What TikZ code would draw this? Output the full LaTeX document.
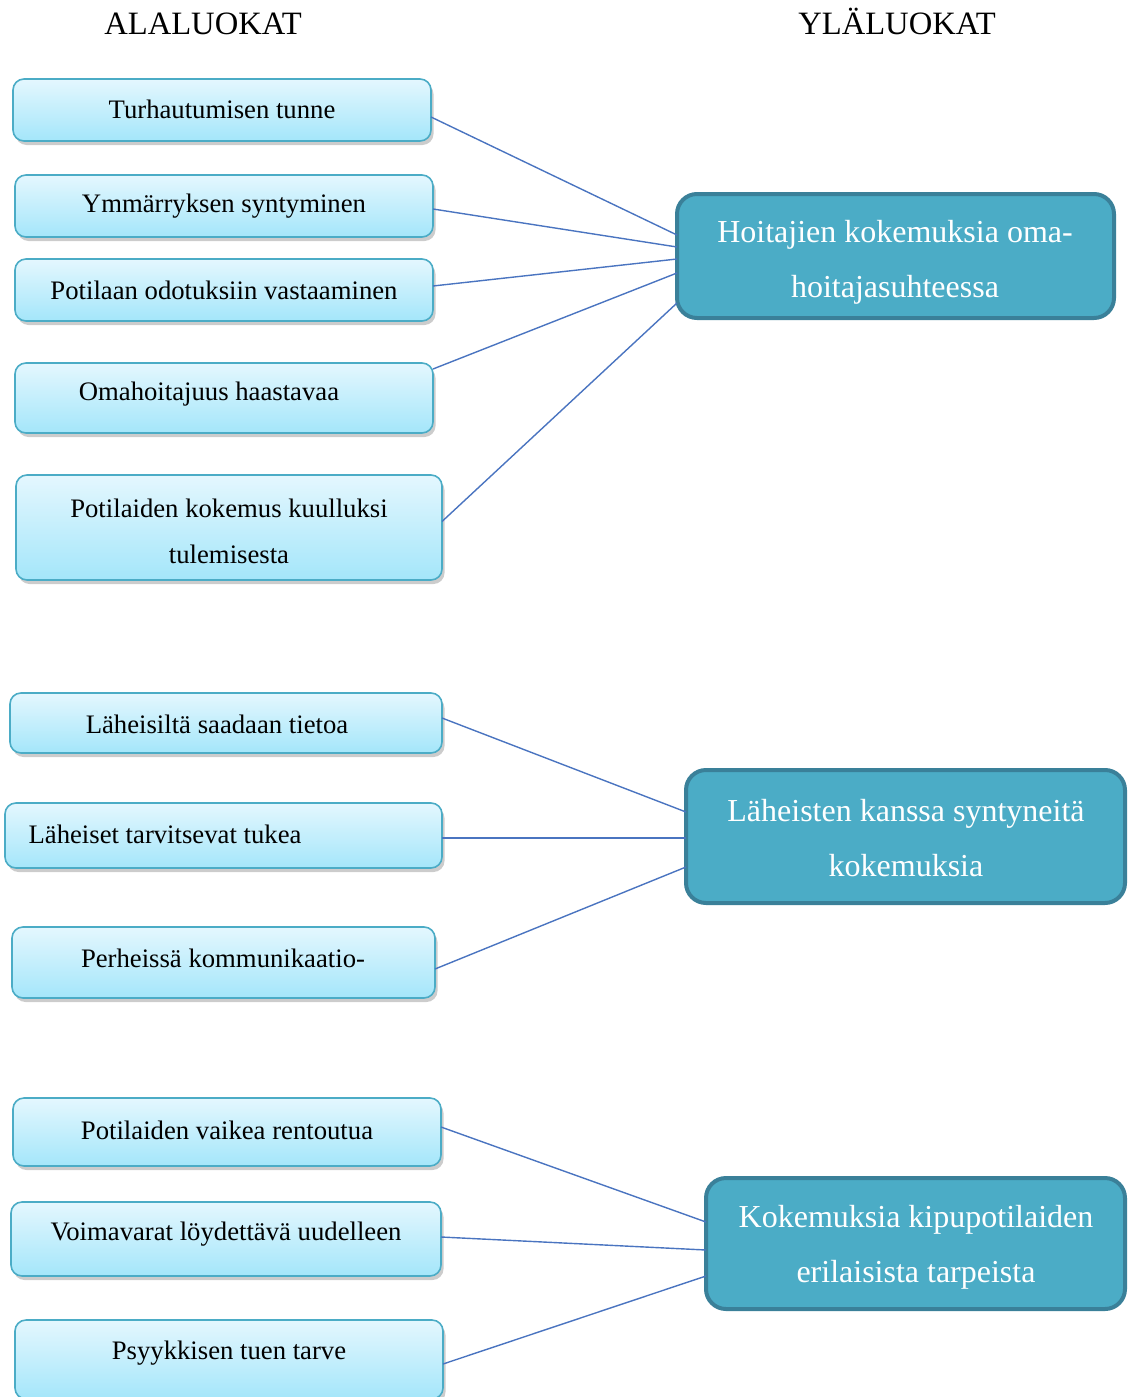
\documentclass[tikz,border=0pt]{standalone}
\usepackage{fontspec}
\setmainfont{Liberation Serif}
\usetikzlibrary{shadows,calc}
\definecolor{aqua}{HTML}{4BACC6}
\definecolor{aquadark}{HTML}{3A8099}
\definecolor{linkblue}{HTML}{4A74C0}
\definecolor{topc}{HTML}{E4F7FE}
\definecolor{botc}{HTML}{A4E6FA}
\newcommand{\mkbox}[6]{\node[#2, minimum width={#5-#3}, minimum height={#6-#4}] (#1) at ({(#3+#5)/2},{(#4+#6)/2}) {};}
\begin{document}
\begin{tikzpicture}[x=1pt,y=-1pt,
 subbox/.style={rounded corners=11pt, draw=aqua, line width=1.6pt, top color=topc, bottom color=botc, drop shadow={shadow xshift=2.5pt,shadow yshift=-4pt,opacity=.4}, inner sep=0pt, outer sep=0pt},
 mainbox/.style={rounded corners=20pt, draw=aquadark, line width=4pt, fill=aqua, inner sep=0pt, outer sep=0pt},
 subtext/.style={font=\fontsize{26.7}{46}\selectfont, align=center, inner sep=0pt, yshift=-1.5pt},
 maintext/.style={font=\fontsize{32}{55}\selectfont, text=white, align=center, inner sep=0pt},
 head/.style={font=\fontsize{32.6}{36}\selectfont, inner sep=0pt, anchor=base},
 link/.style={draw=linkblue, line width=1.4pt}]
\useasboundingbox (0,0) rectangle (1127,1397);

\node[head] (h1) at (203,35) {ALALUOKAT};
\node[head] (h2) at (897,35) {YLÄLUOKAT};

% sub boxes
\mkbox{b1}{subbox}{13}{79}{431}{141}
\mkbox{b2}{subbox}{15}{175}{433}{237}
\mkbox{b3}{subbox}{15}{259}{433}{321}
\mkbox{b4}{subbox}{15}{363}{433}{433}
\mkbox{b5}{subbox}{16}{475}{442}{580}
\mkbox{b6}{subbox}{10}{693}{442}{753}
\mkbox{b7}{subbox}{5}{803}{442}{868}
\mkbox{b8}{subbox}{12}{927}{435}{998}
\mkbox{b9}{subbox}{13}{1098}{441}{1166}
\mkbox{b10}{subbox}{11}{1202}{441}{1276}
\mkbox{b11}{subbox}{15}{1320}{443}{1399}

% main boxes
\mkbox{A}{mainbox}{677}{194}{1114}{318}
\mkbox{B}{mainbox}{686}{770}{1125}{903}
\mkbox{C}{mainbox}{706}{1178}{1125}{1309}

% texts
\node[subtext] (t1) at (222,108) {Turhautumisen tunne};
\node[subtext] (t2) at (224,205) {Ymmärryksen syntyminen};
\node[subtext] (t3) at (224,289) {Potilaan odotuksiin vastaaminen};
\node[subtext] (t4) at (209,393) {Omahoitajuus haastavaa};
\node[subtext] (t5) at (229,530) {Potilaiden kokemus kuulluksi\\tulemisesta};
\node[subtext] (t6) at (217,723) {Läheisiltä saadaan tietoa};
\node[subtext] (t7) at (165,833) {Läheiset tarvitsevat tukea};
\node[subtext] (t8) at (223,957) {Perheissä kommunikaatio-};
\node[subtext] (t9) at (227,1129) {Potilaiden vaikea rentoutua};
\node[subtext] (t10) at (226,1233) {Voimavarat löydettävä uudelleen};
\node[subtext] (t11) at (229,1352) {Psyykkisen tuen tarve};

\node[maintext] (ta) at (895,262) {Hoitajien kokemuksia oma-\\hoitajasuhteessa};
\node[maintext] (tb) at (906,838.5) {Läheisten kanssa syntyneitä\\kokemuksia};
\node[maintext] (tc) at (916,1247) {Kokemuksia kipupotilaiden\\erilaisista tarpeista};

% connectors
\draw[link] ($(b1.east)+(0,7)$) -- ($(A.west)+(0,-21)$);
\draw[link] ($(b2.east)+(0,3)$) -- ($(A.west)+(0,-9)$);
\draw[link] ($(b3.east)+(0,-4)$) -- ($(A.west)+(0,3)$);
\draw[link] ($(b4.east)+(0,-29)$) -- ($(A.west)+(0,17)$);
\draw[link] ($(b5.east)+(0,-6)$) -- ($(A.west)+(0,47)$);

\draw[link] ($(b6.east)+(0,-5)$) -- ($(B.west)+(0,-24.5)$);
\draw[link] ($(b7.east)+(0,2.5)$) -- ($(B.west)+(0,1.5)$);
\draw[link] ($(b8.east)+(0,6.5)$) -- ($(B.west)+(0,30.5)$);

\draw[link] ($(b9.east)+(0,-5)$) -- ($(C.west)+(0,-21.5)$);
\draw[link] ($(b10.east)+(0,-2)$) -- ($(C.west)+(0,6.5)$);
\draw[link] ($(b11.east)+(0,4.5)$) -- ($(C.west)+(0,32.5)$);
\end{tikzpicture}
\end{document}
